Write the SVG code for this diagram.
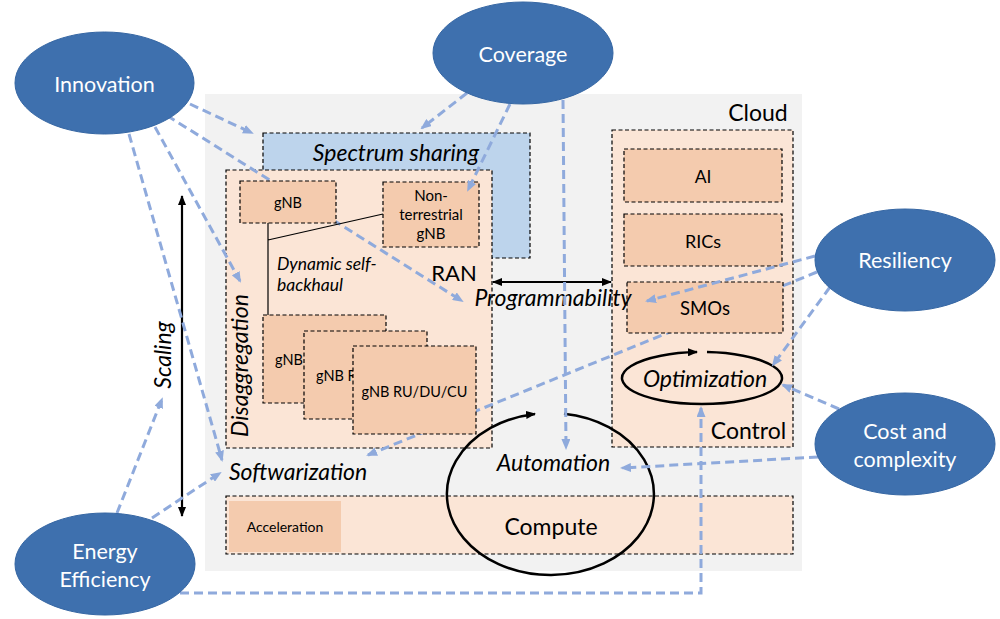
<svg xmlns="http://www.w3.org/2000/svg" width="1000" height="619" viewBox="0 0 1000 619">
  <defs>
    <marker id="blueArrow" viewBox="0 0 11 9" refX="9" refY="4.5" markerWidth="11" markerHeight="9" markerUnits="userSpaceOnUse" orient="auto">
      <path d="M0,0 L11,4.5 L0,9 z" fill="#8faadc"/>
    </marker>
    <marker id="blackArrow" viewBox="0 0 10 8" refX="9" refY="4" markerWidth="10" markerHeight="8" markerUnits="userSpaceOnUse" orient="auto-start-reverse">
      <path d="M0,0 L10,4 L0,8 z" fill="#000"/>
    </marker>
    <style>
      text { font-family: Lato, "Liberation Sans", sans-serif; fill: #000; }
      .box { stroke: #000; stroke-width: 1.2; stroke-dasharray: 4 2.5; }
      .light { fill: #fbe5d6; }
      .dark { fill: #f4cbae; }
      .conn { fill: none; stroke: #8faadc; stroke-width: 3; stroke-dasharray: 9 5; marker-end: url(#blueArrow); }
      .goal ellipse { fill: #3e70ae; stroke: #3566a3; stroke-width: 1; }
      .goal text { fill: #fff; font-size: 21.5px; text-anchor: middle; }
      .it { font-style: italic; font-size: 23px; }
      .big { font-size: 23px; }
      .small { font-size: 14.5px; }
      .loop { fill: none; stroke: #000; stroke-width: 2.5; marker-end: url(#blackArrow); }
    </style>
  </defs>

  <!-- background and containers -->
  <rect id="background" x="205" y="94" width="597" height="477" fill="#f2f2f2"/>
  <g id="spectrum-sharing">
    <rect class="box" x="263" y="133" width="267" height="125" fill="#bdd4ec"/>
  </g>
  <g id="ran">
    <rect class="box light" x="226" y="170" width="266" height="278"/>
  </g>
  <g id="control">
    <rect class="box light" x="612" y="130" width="181" height="317"/>
  </g>
  <g id="compute">
    <rect class="box light" x="226" y="496" width="567" height="58"/>
  </g>

  <!-- connectors passing under inner boxes -->
  <g id="connectors-under">
    <path class="conn" d="M155,108 L462,301"/>
    <path class="conn" d="M817,272 L368,455"/>
  </g>

  <!-- inner boxes -->
  <g id="gnb">
    <rect class="box dark" x="240" y="181" width="96" height="42"/>
    <text class="small" x="288" y="208" text-anchor="middle">gNB</text>
  </g>
  <g id="non-terrestrial-gnb">
    <rect class="box dark" x="383" y="182" width="96" height="65"/>
    <text x="431" y="201" font-size="15" text-anchor="middle">Non-</text>
    <text x="431" y="220" font-size="15" text-anchor="middle">terrestrial</text>
    <text x="431" y="239" font-size="15" text-anchor="middle">gNB</text>
  </g>
  <g id="backhaul-links">
    <path d="M268,223 V315 M268,240 L383,214" stroke="#000" stroke-width="1.2" fill="none"/>
    <text x="277" y="270" font-size="17.5" font-style="italic">Dynamic self-</text>
    <text x="277" y="291" font-size="17.5" font-style="italic">backhaul</text>
  </g>
  <g id="gnb-stack-1">
    <rect class="box dark" x="263" y="315" width="123" height="88"/>
    <text class="small" x="275" y="365">gNB</text>
  </g>
  <g id="gnb-stack-2">
    <rect class="box dark" x="304" y="331" width="123" height="88"/>
    <text class="small" x="316" y="381">gNB R</text>
  </g>
  <g id="gnb-stack-3">
    <rect class="box dark" x="353" y="346" width="123" height="88"/>
    <text class="small" x="414.5" y="397" text-anchor="middle">gNB RU/DU/CU</text>
  </g>
  <g id="ai">
    <rect class="box dark" x="624" y="149" width="158" height="53"/>
    <text x="703" y="183" font-size="17.5" text-anchor="middle">AI</text>
  </g>
  <g id="rics">
    <rect class="box dark" x="624" y="214" width="158" height="52"/>
    <text x="703" y="248" font-size="18" text-anchor="middle">RICs</text>
  </g>
  <g id="smos">
    <rect class="box dark" x="627" y="282" width="156" height="51"/>
    <text x="705" y="315" font-size="18.5" text-anchor="middle">SMOs</text>
  </g>
  <g id="acceleration">
    <rect x="229" y="501" width="112" height="51" fill="#f4cbae"/>
    <text x="285" y="532" font-size="14" text-anchor="middle">Acceleration</text>
  </g>

  <!-- labels -->
  <g id="labels">
    <text class="it" x="396" y="161" text-anchor="middle">Spectrum sharing</text>
    <text x="454" y="281" font-size="22" text-anchor="middle">RAN</text>
    <text class="big" x="758" y="121" text-anchor="middle">Cloud</text>
    <text class="big" x="748.5" y="439" text-anchor="middle">Control</text>
    <text class="big" x="551" y="535" text-anchor="middle">Compute</text>
    <text class="it" x="553" y="306" text-anchor="middle">Programmability</text>
    <text class="it" x="553.5" y="471" text-anchor="middle">Automation</text>
    <text class="it" x="229" y="480">Softwarization</text>
    <text class="it" x="705" y="387" text-anchor="middle">Optimization</text>
    <text class="it" transform="translate(248,365.5) rotate(-90)" text-anchor="middle">Disaggregation</text>
    <text class="it" transform="translate(171,355) rotate(-90)" text-anchor="middle">Scaling</text>
  </g>

  <!-- black arrows and loops -->
  <g id="black-arrows">
    <path d="M182,516 L182,196" stroke="#000" stroke-width="2.2" fill="none" marker-start="url(#blackArrow)" marker-end="url(#blackArrow)"/>
    <path d="M493,282 L611,282" stroke="#000" stroke-width="2.2" fill="none" marker-start="url(#blackArrow)" marker-end="url(#blackArrow)"/>
    <path class="loop" d="M707,352.1 A80,26 0 1 1 697,352.1"/>
    <path class="loop" d="M564,413.7 A103.5,81 0 1 1 535,413.9"/>
  </g>

  <!-- connectors -->
  <g id="connectors">
    <path class="conn" d="M190,104 L252,133"/>
    <path class="conn" d="M155,127 L240,281"/>
    <path class="conn" d="M129,134 L222,460"/>
    <path class="conn" d="M467,93 L422,128"/>
    <path class="conn" d="M510,104 L468,190"/>
    <path class="conn" d="M563,100 L566,448"/>
    <path class="conn" d="M815,256 L647,301"/>
    <path class="conn" d="M830,287 L773,365"/>
    <path class="conn" d="M839,409 L783,385"/>
    <path class="conn" d="M818,457 L622,468"/>
    <path class="conn" d="M117,513 L162,399"/>
    <path class="conn" d="M152,518 L220,473"/>
    <path class="conn" d="M180,593 L701,593 L701,408"/>
  </g>

  <!-- goal nodes -->
  <g id="innovation" class="goal">
    <ellipse cx="104.5" cy="83" rx="89.5" ry="51"/>
    <text x="104.5" y="92">Innovation</text>
  </g>
  <g id="coverage" class="goal">
    <ellipse cx="523" cy="53" rx="90" ry="51"/>
    <text x="523" y="62">Coverage</text>
  </g>
  <g id="resiliency" class="goal">
    <ellipse cx="905" cy="260" rx="90" ry="51"/>
    <text x="905" y="268">Resiliency</text>
  </g>
  <g id="cost-and-complexity" class="goal">
    <ellipse cx="905" cy="444" rx="90" ry="51"/>
    <text x="905" y="439">Cost and</text>
    <text x="905" y="467">complexity</text>
  </g>
  <g id="energy-efficiency" class="goal">
    <ellipse cx="105" cy="564" rx="90" ry="51"/>
    <text x="105" y="559">Energy</text>
    <text x="105" y="587">Efficiency</text>
  </g>
</svg>
